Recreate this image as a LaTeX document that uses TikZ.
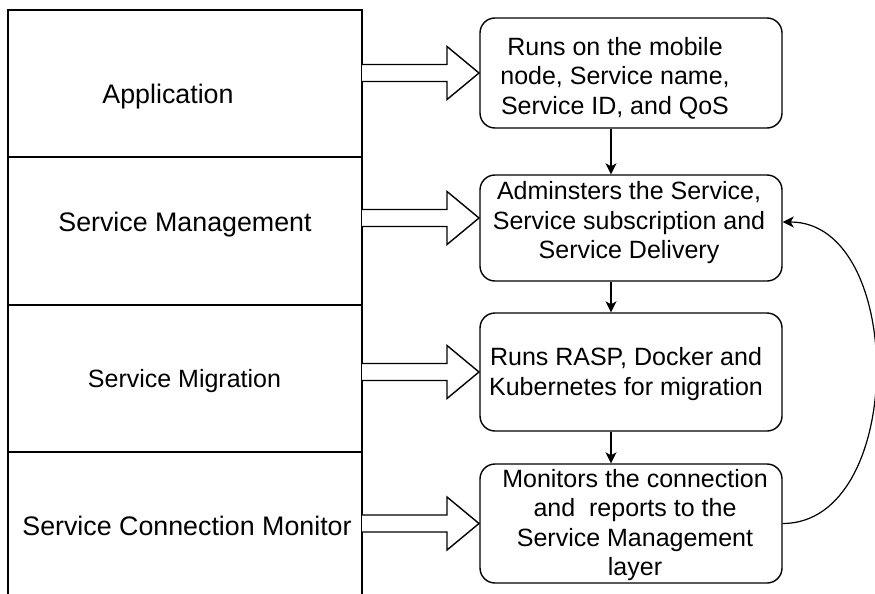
\documentclass[tikz,border=0pt]{standalone}
\usepackage{fontspec}
\setmainfont{Liberation Sans}
\usetikzlibrary{arrows.meta}
\begin{document}
\begin{tikzpicture}[x=1pt,y=-1pt,line width=1.4pt,
  cell/.style={draw,rectangle,minimum width=354pt,inner sep=0pt},
  layertext/.style={inner sep=0pt,font=\fontsize{26.8}{30}\selectfont},
  box/.style={draw,rectangle,rounded corners=15pt,minimum width=302pt,inner sep=0pt},
  boxtext/.style={inner sep=0pt,align=center,font=\fontsize{25}{29.5}\selectfont},
  arr/.style={-{Stealth[length=11pt,width=11pt,inset=3pt]},line width=1.2pt},
  fat/.style={draw,fill=white,line width=1.4pt,line join=miter}]
  \useasboundingbox (0,0) rectangle (875,594);
  \clip (0,0) rectangle (875,594);

  % layer stack on the left
  \node[cell,minimum height=147pt] (app)  at (185,83.5) {};
  \node[cell,minimum height=148pt] (mgmt) at (185,231) {};
  \node[cell,minimum height=147pt] (mig)  at (185,378.5) {};
  \node[cell,minimum height=200pt] (mon)  at (185,552) {};

  \node[layertext] (tapp)  at (168,97)  {Application};
  \node[layertext] (tmgmt) at (185,225) {Service Management};
  \node[layertext,font=\fontsize{25}{30}\selectfont] (tmig) at (184.5,381) {Service Migration};
  \node[layertext] (tmon)  at (187,526) {Service Connection Monitor};

  % description boxes on the right
  \node[box,minimum height=110pt] (b1) at (631,73) {};
  \node[box,minimum height=106pt] (b2) at (631,228) {};
  \node[box,minimum height=118pt] (b3) at (631,372) {};
  \node[box,minimum height=119pt] (b4) at (631,523.5) {};

  \node[boxtext] (t1) at (615,78)
    {Runs on the mobile\\node, Service name,\\Service ID, and QoS};
  \node[boxtext] (t2) at (629,223)
    {Adminsters the Service,\\Service subscription and\\Service Delivery};
  \node[boxtext] (t3) at (626,374)
    {Runs RASP, Docker and\\Kubernetes for migration};
  \node[boxtext] (t4) at (635,525)
    {Monitors the connection\\and~ reports to the\\Service Management\\layer};

  % block arrows from each layer to its box
  \foreach \yy in {73,218,372,523.5}{
    \draw[fat] (362,\yy-8.5) -- (447,\yy-8.5) -- (447,\yy-26.5) -- (479,\yy)
      -- (447,\yy+26.5) -- (447,\yy+8.5) -- (362,\yy+8.5);
  }

  % flow between boxes
  \coordinate (vx) at (611,0);
  \draw[arr] (b1.south -| vx) -- (b2.north -| vx);
  \draw[arr] (b2.south -| vx) -- (b3.north -| vx);
  \draw[arr] (b3.south -| vx) -- (b4.north -| vx);

  % feedback from the monitor to service management
  \draw[arr] (b4.east) .. controls +(124,0) and +(124,0) .. ([yshift=6pt]b2.east);
\end{tikzpicture}
\end{document}
